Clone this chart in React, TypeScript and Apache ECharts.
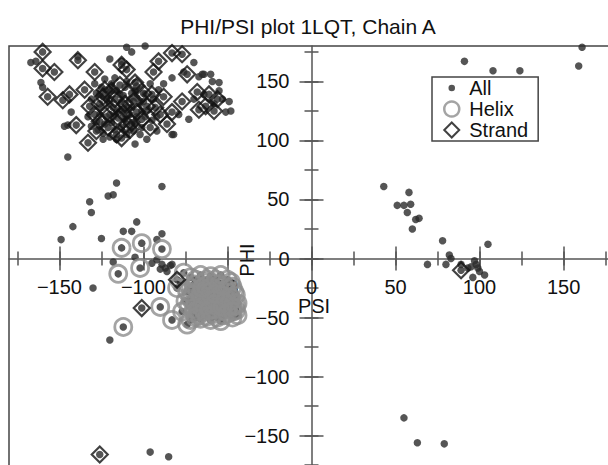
import { useEffect, useRef } from 'react';
import * as echarts from 'echarts';

const TITLE = 'PHI/PSI plot 1LQT, Chain A';
const X_NAME = 'PSI';
const Y_NAME = 'PHI';
const SERIES_NAMES = ['All', 'Helix', 'Strand'];
const MAJOR_TICKS = [-150, -100, -50, 0, 50, 100, 150];
const MINOR_TICKS = [-175, -150, -125, -100, -75, -50, -25, 0, 25, 50, 75, 100, 125, 150, 175];

// points that are neither helix nor strand
const otherPoints: number[][] = [
  [-167, 166], [-164, 167], [-161, 149], [-160, 145], [-139, 171], [-110, 179], [-107, 175], [-99, 180],
  [-83, 153], [-76, 158], [-67, 154], [-65, 156], [-59, 150], [-55, 142], [-49, 133], [-48, 125],
  [-51, 124], [-70, 166], [-120, 169], [-113, 167], [-147, 112], [-131, 112], [-143, 124], [-124, 101],
  [-98, 101], [-92, 108], [-83, 105], [-105, 97], [-111, 125], [-145, 86], [-145, 113],
  [-129, 148], [-126, 139], [-123, 152], [-120, 143], [-117, 153], [-114, 139], [-111, 145], [-108, 135],
  [-105, 142], [-102, 131], [-126, 122], [-123, 114], [-120, 131], [-117, 109], [-114, 126], [-111, 118],
  [-108, 122], [-105, 114], [-102, 105], [-99, 120], [-120, 103], [-116, 101], [-110, 105], [-127, 109],
  [-131, 135], [-133, 120], [-96, 148], [-99, 139], [-94, 135], [-91, 143],
  [-128, 140], [-125, 145], [-122, 135], [-119, 148], [-116, 142], [-113, 133], [-110, 150], [-107, 128],
  [-104, 136], [-101, 125], [-125, 128], [-122, 120], [-119, 115], [-116, 124], [-113, 111], [-110, 128],
  [-107, 140], [-104, 120], [-101, 111], [-128, 116], [-124, 106], [-118, 120], [-112, 138], [-106, 108],
  [-100, 133], [-97, 126], [-95, 117], [-92, 120],
  [-64, 156], [-60, 156], [-55, 149], [-53, 135], [-64, 139], [-58, 131], [-70, 135], [-73, 118],
  [-79, 122], [-88, 148], [-82, 105],
  [-116, 64], [-121, 53], [-118, 54], [-132, 48], [-89, 61], [-131, 39], [-142, 27], [-149, 16],
  [-125, 17], [-104, 31], [-112, 23], [-107, 23], [-89, 21], [-92, 16], [-105, 1], [-118, -3],
  [-84, -6], [-130, -25], [-120, -69], [-92, -1], [-89, -5], [-87, -8], [-90, -9], [-83, -5],
  [-86, -11], [-95, -4],
  [43, 61], [58, 56], [51, 45], [55, 45], [59, 46], [57, 39], [62, 33], [64, 34], [60, 25],
  [78, 15], [105, 12], [82, 3], [83, 0], [69, -5], [80, -5], [89, -5], [95, -7], [97, -2],
  [98, -5], [99, -8], [96, -16], [103, -14], [100, -11], [93, -8],
  [91, 167], [108, 159], [124, 159], [161, 179], [159, 163],
  [-96, -164], [-85, -168], [55, -135], [63, -156], [79, -157],
];

const helixPoints: number[][] = [
  [-113, 9], [-101, 13], [-89, 8], [-115, -13], [-102, -8], [-90, -41], [-112, -58], [-74, -56], [-83, -52],
  [-72, -16], [-66, -14], [-60, -15], [-54, -14], [-50, -18], [-70, -22], [-64, -20], [-58, -21],
  [-52, -23], [-47, -24], [-74, -28], [-68, -27], [-62, -26], [-56, -28], [-50, -29], [-45, -31],
  [-72, -34], [-66, -33], [-60, -32], [-54, -35], [-48, -36], [-44, -38], [-73, -40], [-67, -39],
  [-61, -38], [-56, -41], [-50, -42], [-45, -44], [-70, -46], [-64, -45], [-58, -47], [-52, -48],
  [-47, -50], [-66, -51], [-60, -52], [-54, -53], [-63, -30], [-57, -35], [-65, -42], [-53, -44],
  [-59, -25], [-69, -37], [-62, -18], [-55, -38], [-49, -40], [-71, -31], [-64, -36], [-58, -43],
  [-51, -34], [-67, -48], [-78, -20], [-76, -12], [-80, -25], [-77, -45], [-72, -52], [-44, -48],
  [-48, -20],
  [-69, -18], [-63, -23], [-57, -18], [-51, -26], [-46, -28], [-72, -25], [-66, -30], [-60, -28],
  [-54, -31], [-48, -33], [-70, -42], [-64, -40], [-58, -39], [-52, -37], [-47, -41], [-68, -44],
  [-62, -49], [-56, -50], [-50, -46], [-45, -40], [-75, -36], [-55, -22], [-61, -44], [-53, -41],
  [-57, -30], [-65, -25], [-47, -45], [-69, -50],
];

const strandPoints: number[][] = [
  [-160, 175], [-139, 168], [-160, 161], [-153, 158], [-157, 137], [-148, 134], [-140, 113], [-133, 98],
  [-129, 158], [-113, 164], [-105, 149], [-94, 158], [-91, 167], [-83, 174], [-77, 173], [-74, 156],
  [-68, 141], [-63, 129], [-77, 133], [-88, 137], [-93, 128], [-83, 124], [-101, 118], [-86, 114],
  [-116, 105], [-126, 116], [-132, 129], [-135, 143], [-144, 139], [-110, 160], [-104, 146], [-98, 129],
  [-107, 115], [-95, 139], [-123, 143], [-117, 135], [-120, 122], [-111, 131], [-114, 147], [-126, 131],
  [-108, 109], [-121, 111], [-115, 119], [-129, 122], [-61, 139], [-56, 135], [-67, 126], [-58, 125],
  [-90, 122], [-96, 111],
  [-124, 137], [-118, 128], [-112, 123], [-106, 133], [-100, 140], [-119, 142], [-110, 114], [-104, 124],
  [-128, 108], [-113, 102],
  [-80, -18], [-101, -42], [89, -10], [-126, -166],
];

const allPoints = [...otherPoints, ...helixPoints, ...strandPoints];

const FONT = "'Liberation Sans', Arial, Helvetica, sans-serif";
const AXIS_COLOR = '#555';
const GRID = { left: 9, top: 46, width: 605, height: 425 };
const minus = (v: number) => (v < 0 ? '\u2212' + Math.abs(v) : String(v));
// the reference drops the minus sign of the x label at -50
const fmtX = (v: number) => (v === -50 ? '50' : minus(v));

function makeAxis(dim: 'x' | 'y', position: string, ticks: number[], len: number, main: boolean) {
  // move the axis from the grid edge to the centre (where the other axis is zero)
  const offset = dim === 'x' ? -GRID.height / 2 : -GRID.width / 2;
  return {
    type: 'value',
    min: -180,
    max: 180,
    position,
    offset,
    axisLine: {
      show: main,
      onZero: false,
      lineStyle: { color: AXIS_COLOR, width: 1.5 },
    },
    axisTick: {
      show: true,
      customValues: ticks,
      length: len,
      lineStyle: { color: AXIS_COLOR, width: 1.5 },
    },
    axisLabel: main
      ? {
          show: true,
          customValues: MAJOR_TICKS,
          formatter: dim === 'x' ? fmtX : minus,
          fontSize: 20,
          fontFamily: FONT,
          color: '#111',
          margin: dim === 'x' ? 18 : 22,
        }
      : { show: false },
    splitLine: { show: false },
  };
}

export default function App() {
  const ref = useRef<HTMLDivElement>(null);
  useEffect(() => {
    if (!ref.current) return;
    const chart = echarts.init(ref.current, null, { renderer: 'svg' });
    chart.setOption({
      animation: false,
      backgroundColor: '#fff',
      title: {
        text: TITLE,
        left: 'center',
        top: 11,
        textStyle: { fontSize: 21, fontWeight: 'normal', fontFamily: FONT, color: '#111' },
      },
      grid: {
        ...GRID,
        show: true,
        borderColor: '#444',
        borderWidth: 1.5,
        containLabel: false,
        outerBoundsMode: 'none',
      },
      legend: {
        orient: 'vertical',
        left: 432,
        top: 77,
        padding: [1, 10, 1, 11],
        itemGap: 1,
        itemWidth: 15,
        itemHeight: 15,
        borderColor: '#444',
        borderWidth: 1.5,
        selectedMode: false,
        textStyle: { fontSize: 20, fontFamily: FONT, color: '#111', padding: [0, 0, 0, 5] },
        data: [
          {
            name: SERIES_NAMES[0],
            icon: 'path://M0,0M16,16M4.5,8a3.5,3.5,0,1,0,7,0a3.5,3.5,0,1,0,-7,0Z',
            itemStyle: { color: '#2a2a2a', borderWidth: 0 },
          },
          {
            name: SERIES_NAMES[1],
            icon: 'circle',
            itemStyle: { color: 'rgba(0,0,0,0)', borderColor: '#8d8d8d', borderWidth: 2.5 },
          },
          {
            name: SERIES_NAMES[2],
            icon: 'diamond',
            itemStyle: { color: 'rgba(0,0,0,0)', borderColor: '#111', borderWidth: 2 },
          },
        ],
      },
      xAxis: [
        makeAxis('x', 'bottom', MINOR_TICKS, 7, true),
        makeAxis('x', 'top', MINOR_TICKS, 7, false),
        makeAxis('x', 'bottom', MAJOR_TICKS, 12, false),
        makeAxis('x', 'top', MAJOR_TICKS, 12, false),
      ],
      yAxis: [
        makeAxis('y', 'left', MINOR_TICKS, 7, true),
        makeAxis('y', 'right', MINOR_TICKS, 7, false),
        makeAxis('y', 'left', MAJOR_TICKS, 12, false),
        makeAxis('y', 'right', MAJOR_TICKS, 12, false),
      ],
      graphic: [
        {
          type: 'text',
          x: 247,
          y: 260,
          rotation: Math.PI / 2,
          style: {
            text: Y_NAME,
            fontSize: 20,
            fontFamily: FONT,
            fill: '#111',
            align: 'center',
            verticalAlign: 'middle',
            textAlign: 'center',
            textVerticalAlign: 'middle',
          },
        },
        {
          type: 'text',
          x: 314,
          y: 306,
          style: {
            text: X_NAME,
            fontSize: 20,
            fontFamily: FONT,
            fill: '#111',
            align: 'center',
            verticalAlign: 'middle',
            textAlign: 'center',
            textVerticalAlign: 'middle',
          },
        },
      ],
      series: [
        {
          name: SERIES_NAMES[0],
          type: 'scatter',
          data: allPoints,
          symbol: 'circle',
          symbolSize: 7.5,
          itemStyle: { color: '#2a2a2a' },
          emphasis: { disabled: true },
          z: 2,
        },
        {
          name: SERIES_NAMES[1],
          type: 'scatter',
          data: helixPoints,
          symbol: 'circle',
          symbolSize: 17,
          itemStyle: { color: 'rgba(0,0,0,0)', borderColor: '#8d8d8d', borderWidth: 2.8 },
          emphasis: { disabled: true },
          z: 3,
        },
        {
          name: SERIES_NAMES[2],
          type: 'scatter',
          data: strandPoints,
          symbol: 'diamond',
          symbolSize: 16,
          itemStyle: { color: 'rgba(0,0,0,0)', borderColor: '#111', borderWidth: 2.2 },
          emphasis: { disabled: true },
          z: 4,
        },
      ],
    });
    return () => chart.dispose();
  }, []);
  return (
    <div
      style={{
        position: 'fixed',
        left: 0,
        top: 0,
        width: 608,
        height: 465,
        overflow: 'hidden',
        background: '#fff',
      }}
    >
      <div ref={ref} style={{ width: 616, height: 480 }} />
    </div>
  );
}
